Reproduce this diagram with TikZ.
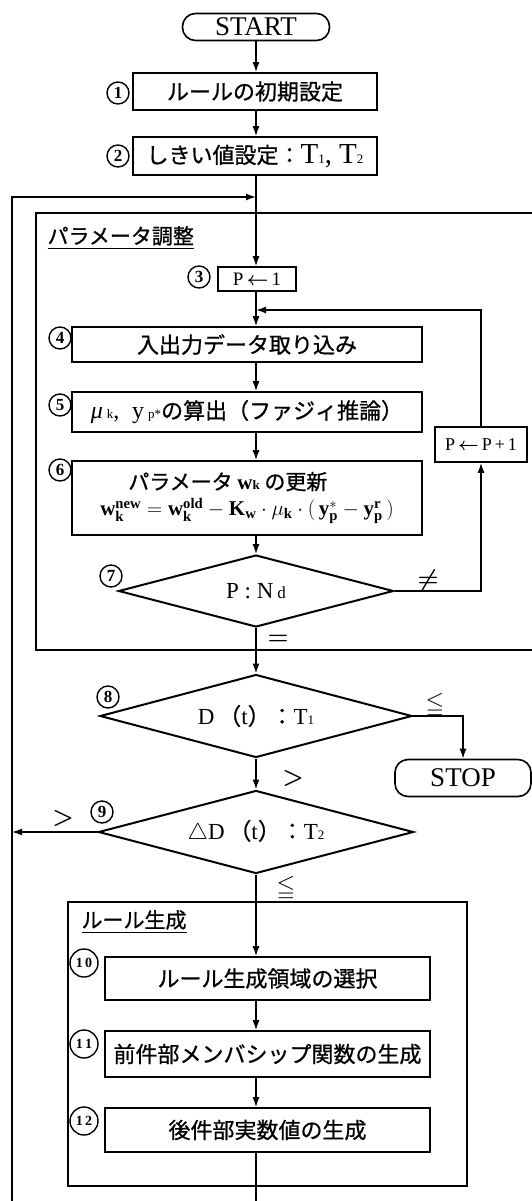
\documentclass[tikz,border=0pt]{standalone}
\usepackage{fix-cm}
\usepackage{amsmath, amssymb}
\usepackage{fontspec}
\setmainfont{Liberation Serif}
\newfontfamily\jp[FakeBold=0.8]{Noto Sans CJK JP}
\usetikzlibrary{arrows.meta, shapes.geometric}
\newcommand{\subidx}[1]{{\rmfamily\fontsize{13}{13}\selectfont #1}}

\begin{document}
\begin{tikzpicture}[x=1pt, y=-1pt,
    box/.style={draw, line width=1.6pt, inner sep=0pt, font=\jp\fontsize{22}{22}\selectfont},
    term/.style={draw, line width=1.6pt, rounded corners=13pt, inner sep=0pt, font=\fontsize{27}{27}\selectfont},
    cond/.style={draw, diamond, aspect=3.8, line width=2pt, inner sep=0pt, font=\fontsize{23}{23}\selectfont},
    num/.style={draw, circle, line width=1.4pt, inner sep=0pt, minimum size=22pt, font=\fontsize{17}{17}\selectfont\bfseries},
    bignum/.style={num, minimum size=28pt, font=\fontsize{14}{14}\selectfont\bfseries},
    arr/.style={line width=1.5pt, -{Latex[length=10pt, width=7pt]}},
    wire/.style={line width=1.5pt},
    groupbox/.style={line width=2.2pt},
    lbl/.style={font=\boldmath\fontsize{24}{24}\selectfont}]
    \useasboundingbox (0,0) rectangle (531,1201);
    % Groups
    \draw[groupbox] (36,213) rectangle (545,650);
    \node[anchor=west, font=\jp\fontsize{21}{21}\selectfont] (tparam) at (44,238) {\underline{パラメータ調整}};
    \draw[groupbox] (68,902) rectangle (467,1186);
    \node[anchor=west, font=\jp\fontsize{21}{21}\selectfont] (trule) at (78,922) {\underline{ルール生成}};
    % Steps
    \node[term, minimum width=147pt, minimum height=27pt] (start) at (256,27) {START};
    \node[box, minimum width=244pt, minimum height=37pt] (b1) at (255,91.5) {ルールの初期設定};
    \node[box, minimum width=244pt, minimum height=38pt] (b2) at (255,156) {しきい値設定：{\rmfamily\fontsize{29}{29}\selectfont T\subidx{1}, T\subidx{2}}};
    \node[box, minimum width=78pt, minimum height=24pt, font=\fontsize{19}{19}\selectfont] (b3) at (257,279) {P\,{\boldmath$\leftarrow$}\,1};
    \node[box, minimum width=350pt, minimum height=35pt] (b4) at (247,344.5) {入出力データ取り込み};
    \node[box, minimum width=350pt, minimum height=40pt] (b5) at (247,412) {{\rmfamily\fontsize{24}{24}\selectfont\itshape μ\upshape\,\subidx{k},\; y\,\subidx{p*}}の算出（ファジィ推論）};
    \node[box, minimum width=350pt, minimum height=74pt, font=\fontsize{21}{21}\selectfont] (b6) at (247,498)
        {\begin{tabular}{@{}l@{}}\hspace*{28pt}{\jp パラメータ {\rmfamily\bfseries w\subidx{k}} の更新}\\[2pt]
         $\mathbf{w}_{\mathbf{k}}^{\mathbf{new}} = \mathbf{w}_{\mathbf{k}}^{\mathbf{old}} - \mathbf{K}_{\mathbf{w}}\cdot\mu_{\mathbf{k}}\cdot(\,\mathbf{y}_{\mathbf{p}}^{*} - \mathbf{y}_{\mathbf{p}}^{\mathbf{r}}\,)$\end{tabular}};
    \node[box, minimum width=92pt, minimum height=35pt, font=\fontsize{18}{18}\selectfont] (pp) at (481,444.5) {P\,{\boldmath$\leftarrow$}\,P\,+\,1};
    \node[cond, minimum width=275pt, minimum height=72pt] (d7) at (256,591) {P\ :\ N\,{\fontsize{17}{17}\selectfont d}};
    \node[cond, minimum width=312pt, minimum height=83pt] (d8) at (256,716) {D\,{\jp（}t{\jp）：}T\subidx{1}};
    \node[term, minimum width=136pt, minimum height=37pt] (stop) at (463,778) {STOP};
    \node[cond, minimum width=315pt, minimum height=83pt] (d9) at (256,832) {$\triangle$D\,{\jp（}t{\jp）：}T\subidx{2}};
    \node[box, minimum width=325pt, minimum height=43pt] (b10) at (267.5,978.5) {ルール生成領域の選択};
    \node[box, minimum width=325pt, minimum height=46pt] (b11) at (267.5,1054) {前件部メンバシップ関数の生成};
    \node[box, minimum width=325pt, minimum height=44pt] (b12) at (267.5,1130) {後件部実数値の生成};
    % Step numbers
    \foreach \n/\x/\y in {1/118/93, 2/118/156, 3/199/277, 4/60/338, 5/60/405, 6/60/470, 7/111/576, 8/108/697, 9/102/812}
        \node[num, fill=white] (n\n) at (\x,\y) {\n};
    \foreach \n/\lab/\y in {10/{1\,0}/963, 11/{1\,1}/1044, 12/{1\,2}/1121}
        \node[bignum, fill=white] (n\n) at (84,\y) {\lab};
    % Helper points
    \coordinate (axis) at (256,0);
    \coordinate (retin) at (256,197);
    \coordinate (retcorner) at (12,197);
    \coordinate (retfoot) at (12,1210);
    \coordinate (merge) at (256,310);
    \coordinate (exit) at (256,1210);
    % Connectors
    \draw[arr] (start.south) -- (start.south |- b1.north);
    \draw[arr] (b1.south -| axis) -- (b2.north -| axis);
    \draw[arr] (b2.south -| axis) -- (b3.north -| axis);
    \draw[arr] (retfoot) -- (retcorner) -- (retin);
    \draw[arr] (b3.south -| axis) -- (b4.north -| axis);
    \draw[arr] (b4.south -| axis) -- (b5.north -| axis);
    \draw[arr] (b5.south -| axis) -- (b6.north -| axis);
    \draw[arr] (b6.south -| axis) -- (d7.north);
    \draw[arr] (d7.east) -| (pp.south);
    \draw[arr] (pp.north) |- (merge);
    \draw[arr] (d7.south) -- (d8.north);
    \draw[arr] (d8.east) -| (stop.north);
    \draw[arr] (d8.south) -- (d9.north);
    \draw[arr] (d9.west) -- (d9.west -| retcorner);
    \draw[arr] (d9.south) -- (b10.north -| axis);
    \draw[arr] (b10.south -| axis) -- (b11.north -| axis);
    \draw[arr] (b11.south -| axis) -- (b12.north -| axis);
    \draw[wire] (b12.south -| axis) -- (exit);
    % Branch labels
    \node[lbl] (lne) at (428,580) {$\neq$};
    \node[lbl] (leq) at (278,640) {$=$};
    \node[lbl] (lle1) at (435,705) {$\leqq$};
    \node[lbl] (lgt1) at (293,778) {$>$};
    \node[lbl] (lgt2) at (63,818) {$>$};
    \node[lbl] (lle2) at (286,888) {$\leqq$};
\end{tikzpicture}
\end{document}
